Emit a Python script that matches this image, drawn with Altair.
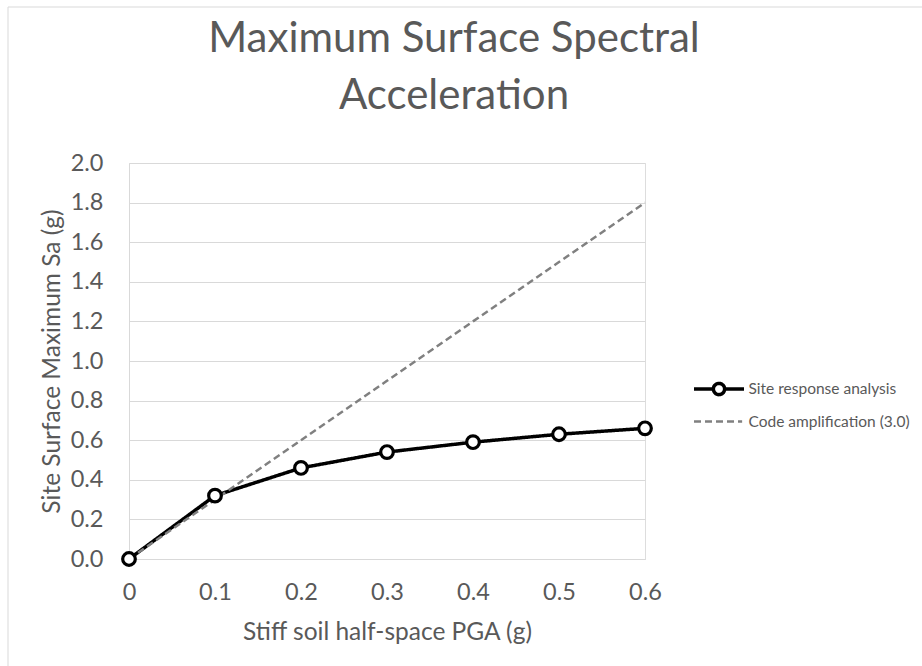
import altair as alt
import pandas as pd

PGA = [0.0, 0.1, 0.2, 0.3, 0.4, 0.5, 0.6]
SITE = [0.0, 0.32, 0.46, 0.54, 0.59, 0.63, 0.66]
CODE = [0.0, 0.3, 0.6, 0.9, 1.2, 1.5, 1.8]
SERIES = ["Site response analysis", "Code amplification (3.0)"]
X_TICKS = [0.0, 0.1, 0.2, 0.3, 0.4, 0.5, 0.6]
Y_TICKS = [0.0, 0.2, 0.4, 0.6, 0.8, 1.0, 1.2, 1.4, 1.6, 1.8, 2.0]
TITLE = ["Maximum Surface Spectral", "Acceleration"]

rows = []
for name, vals in zip(SERIES, [SITE, CODE]):
    for x, v in zip(PGA, vals):
        rows.append({"pga": x, "sa": v, "series": name})
df = pd.DataFrame(rows)

FONT = "Lato"
GRAY = "#595959"

x_enc = alt.X(
    "pga:Q",
    scale=alt.Scale(domain=[0, 0.6], nice=False),
    axis=alt.Axis(
        values=X_TICKS, tickCount=20, format=".1~f", title="Stiff soil half-space PGA (g)",
        grid=False, ticks=False, domainColor="#d9d9d9", labelPadding=21,
        labelFlush=False, labelOverlap=False,
        labelFontSize=23.5, labelColor=GRAY, labelFont=FONT,
        titleFontSize=24.5, titleColor=GRAY, titleFont=FONT, titleFontWeight="normal",
        titleY=73, titleBaseline="middle",
    ),
)
y_enc = alt.Y(
    "sa:Q",
    scale=alt.Scale(domain=[0, 2], nice=False),
    axis=alt.Axis(
        values=Y_TICKS, tickCount=20, format=".1f", title="Site Surface Maximum Sa (g)",
        grid=True, gridColor="#d9d9d9", ticks=False, domainColor="#d9d9d9",
        labelFlush=False, labelOverlap=False,
        labelPadding=26, labelFontSize=23.5, labelColor=GRAY, labelFont=FONT,
        titleFontSize=24.5, titleColor=GRAY, titleFont=FONT, titleFontWeight="normal",
        titleX=-77, titleY=198, titleBaseline="middle",
    ),
)

lines = alt.Chart(df).mark_line().encode(
    x=x_enc,
    y=y_enc,
    color=alt.Color("series:N", scale=alt.Scale(domain=SERIES, range=["black", "#808080"]), legend=None),
    strokeDash=alt.StrokeDash("series:N", scale=alt.Scale(domain=SERIES, range=[[1, 0], [7, 4]]), legend=None),
    strokeWidth=alt.StrokeWidth("series:N", scale=alt.Scale(domain=SERIES, range=[3.5, 2.5]), legend=None),
)

points = alt.Chart(df).transform_filter(
    alt.datum.series == SERIES[0]
).mark_point(filled=True, fill="white", stroke="black", strokeWidth=3.2, size=160, shape="circle", opacity=1).encode(
    x=alt.X("pga:Q"),
    y=alt.Y("sa:Q"),
)

P_SITE = "M-2,0L-0.45,0M0.45,0L2,0M-0.45,0A0.45,0.45,0,1,0,0.45,0A0.45,0.45,0,1,0,-0.45,0"
P_CODE = "M-2,0L1.85,0"

leg = alt.Legend(
    title=None, orient="none", legendX=575.5, legendY=211.5, padding=0,
    symbolSize=625, labelOffset=15, rowPadding=5, labelFontSize=15.5, labelLimit=400,
    labelColor=GRAY, labelFont=FONT, symbolFillColor="white", symbolOpacity=1,
)
legend_layer = alt.Chart(df).mark_point(
    filled=False, fill="white", size=625, opacity=0
).encode(
    x=alt.X("pga:Q"),
    y=alt.Y("sa:Q"),
    shape=alt.Shape("series:N", scale=alt.Scale(domain=SERIES, range=[P_SITE, P_CODE]), legend=leg),
    color=alt.Color("series:N", scale=alt.Scale(domain=SERIES, range=["black", "#808080"]), legend=leg),
    strokeDash=alt.StrokeDash("series:N", scale=alt.Scale(domain=SERIES, range=[[1, 0], [7, 4]]), legend=leg),
    strokeWidth=alt.StrokeWidth("series:N", scale=alt.Scale(domain=SERIES, range=[3.5, 2.5]), legend=leg),
)

border = alt.Chart(pd.DataFrame({"a": [0]})).mark_rule(color="#d9d9d9", strokeWidth=1).encode(
    x=alt.value(-121), x2=alt.value(900), y=alt.value(-156)
)
border_left = alt.Chart(pd.DataFrame({"a": [0]})).mark_rule(color="#d9d9d9", strokeWidth=1).encode(
    x=alt.value(-121), y=alt.value(-156), y2=alt.value(600)
)

chart = alt.layer(border, border_left, lines, points, legend_layer).resolve_scale(
    color="independent", shape="independent", strokeDash="independent", strokeWidth="independent"
).properties(
    width=516,
    height=396,
    title=alt.TitleParams(
        text=TITLE, fontSize=42, font=FONT, color=GRAY, fontWeight="normal",
        lineHeight=57, anchor="middle", dx=67, offset=0, dy=144, baseline="alphabetic",
    ),
    padding={"left": 129, "top": 163, "right": 277, "bottom": 107},
    autosize=alt.AutoSizeParams(type="none"),
).configure_view(stroke=None).configure(background="white")

chart.save("out.html", embed_options={"renderer": "svg", "actions": False})
